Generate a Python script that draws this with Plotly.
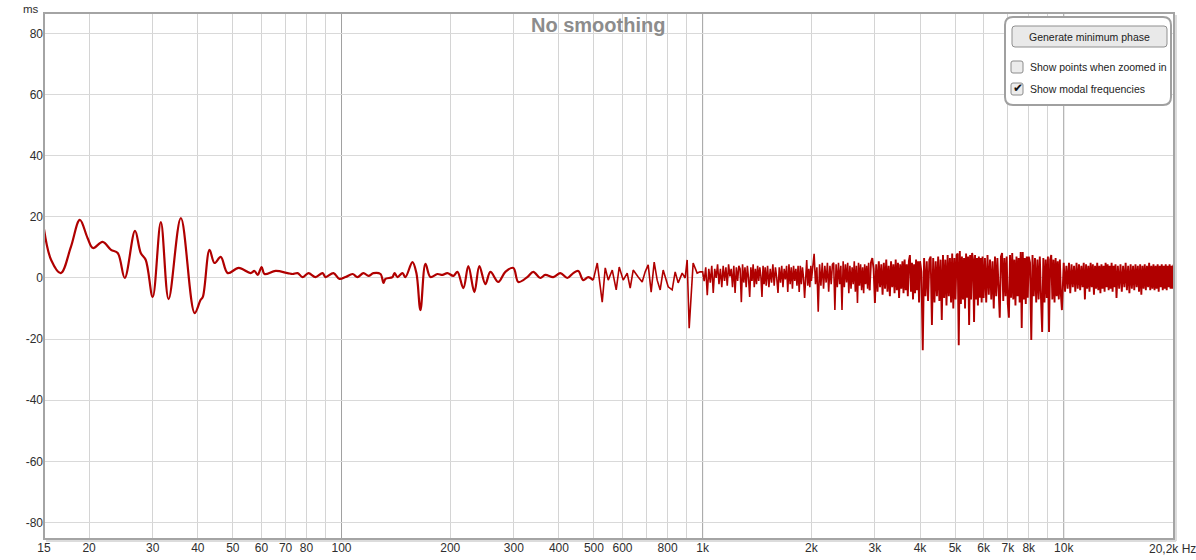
import math
import plotly.graph_objects as go

# ---------------- data ----------------
# low-frequency part (smooth curve)
freq_low_hz = [15, 15.7, 16.7, 17.8, 18.85, 19.8, 20.5, 21.8, 23.0, 24.0,
               25.1, 26.8, 27.8, 28.7, 30.0, 31.6, 33.2, 35.9, 39.2, 40.7,
               41.3, 43.1, 44.5, 46.3, 48.4, 51.9, 56.0, 57.4, 58.6, 60.1,
               61.2, 65.7, 70.9, 73.2, 75.6, 78.0, 81.0, 84.7, 88.6, 90.3,
               95.0, 98.7, 102.6, 107.3, 110.7, 115.0, 118.8, 122.6, 128.2, 130.7,
               132.3, 138.4, 140.2, 142.9, 147.5, 150.3, 157.2, 161.2, 165.4, 170.8,
               176.3, 184.3, 190.3, 196.4, 204.1, 209.4, 217.5, 224.5, 233.3, 240.8,
               250.2, 258.4, 271.8, 284.2, 299.1, 308.8, 327.0, 339.7, 355.2, 366.7,
               385.8, 403.5, 421.9, 438.3, 452.5, 467.1, 482.3, 497.9]
delay_low_ms = [16.0, 5.9, 1.6, 10.1, 19.0, 13.1, 9.8, 11.8, 9.2, 8.2,
                0.0, 15.4, 8.2, 5.9, -6.2, 18.3, -6.9, 19.6, -11.5, -7.2,
                -6.2, 9.2, 4.9, 6.9, 1.6, 3.3, 1.6, 2.3, 1.0, 3.6,
                1.3, 2.3, 1.6, 1.3, 1.6, 0.3, 1.6, 0.3, 1.6, 0.3,
                1.6, -0.3, 0.3, 1.3, 0.3, 1.6, 0.7, 1.6, 1.3, -1.6,
                -0.3, 0.3, 1.6, 0.3, 1.6, 0.3, 5.2, 1.6, -10.5, 4.6,
                0.3, 1.3, 1.0, 1.6, 0.7, 2.0, -3.3, 3.9, -4.6, 3.9,
                -2.0, 2.0, -1.3, 2.0, 3.3, -1.3, 0.3, 2.0, 0.0, 1.0,
                0.3, 1.6, 0.0, 1.6, 2.3, -0.7, 0.3, -0.7]

# 500 Hz - 1 kHz
freq_mid_hz = [510.8, 527.2, 537.4, 547.8, 562.0, 576.4, 587.5, 602.7, 618.2,
               630.1, 642.3, 663.1, 680.2, 693.3, 706.7, 720.3, 734.3, 748.4, 762.9,
               777.6, 802.9, 823.5, 839.4, 855.6, 877.7, 894.6, 906.0, 917.8, 941.3,
               965.6, 984.2]
delay_mid_ms = [4.9, -7.9, 3.3, -0.7, 2.6, -3.9, 3.6, -0.7, 1.6,
                -3.3, 2.6, 0.3, -1.3, 2.0, 4.3, -4.6, 5.2, -0.7, -3.9,
                2.6, -2.9, -3.9, 2.0, -1.6, 1.6, 0.0, 5.9, -16.4, 4.9,
                1.6, 2.0]

# 1 kHz - 2.9 kHz
freq_1k_hz = [1000, 1010, 1020, 1030, 1040, 1050, 1060, 1070, 1080, 1090,
              1100, 1110, 1120, 1130, 1140, 1150, 1160, 1170, 1180, 1190,
              1200, 1210, 1220, 1230, 1240, 1250, 1260, 1270, 1280, 1290,
              1300, 1310, 1320, 1330, 1340, 1350, 1360, 1370, 1380, 1390,
              1400, 1410, 1420, 1430, 1440, 1450, 1460, 1470, 1480, 1490,
              1500, 1513, 1526, 1539, 1552, 1565, 1578, 1591, 1604, 1617,
              1630, 1643, 1656, 1669, 1682, 1695, 1708, 1721, 1734, 1747,
              1760, 1773, 1786, 1799, 1812, 1825, 1838, 1851, 1864, 1877,
              1890, 1903, 1916, 1929, 1942, 1955, 1968, 1981, 1994,
              2000, 2018, 2036, 2054, 2072, 2090, 2108, 2126, 2144, 2162,
              2180, 2198, 2216, 2234, 2252, 2270, 2288, 2306, 2324, 2342,
              2360, 2378, 2396, 2414, 2432, 2450, 2468, 2486, 2504, 2522,
              2540, 2558, 2576, 2594, 2612, 2630, 2648, 2666, 2684, 2702,
              2720, 2738, 2756, 2774, 2792, 2810, 2828, 2846, 2864, 2882]
delay_1k_ms = [2.0, -1.0, 3.5, -5.6, 3.0, -1.5, 4.0, -4.9, 3.0, 0.0,
               4.5, -2.0, 3.0, -3.0, 4.0, -1.0, 3.5, -2.5, 4.5, 0.5,
               3.0, -3.0, 4.0, -4.9, 3.5, -1.0, 4.0, 3.0, -7.9, 4.5,
               -1.5, 3.5, -3.0, 4.0, 0.0, -6.2, 3.5, -1.0, 4.5, -3.0,
               3.0, -2.0, 4.0, -1.0, 3.5, 0.5, -6.2, 4.0, -2.0, 3.5,
               -2.5, 4.0, -3.0, 3.0, -1.5, 4.5, -2.5, 3.5, 0.0, -4.9,
               3.5, -1.5, 4.0, -3.0, 3.0, -0.5, 4.0, -4.6, 4.5, -2.0,
               3.5, -3.5, 4.0, -1.0, 3.0, -2.5, 4.0, -4.6, 4.0, -2.0,
               3.5, 0.0, -6.5, 3.0, 5.9, -2.5, 3.0, -3.0, 4.0,
               -1.0, 4.5, 7.9, -2.0, 3.5, -11.0, 4.5, -2.5, 5.0, -3.5,
               4.0, -1.5, 5.0, -4.5, 4.0, -2.0, 4.5, 5.0, -10.5, 4.5,
               -3.0, 5.0, -2.0, 4.0, -10.5, 5.5, -3.0, 4.5, -1.5, 5.0,
               -5.0, 4.0, -3.5, 3.5, -2.0, 5.5, -4.5, 4.0, -8.2, 5.0,
               -2.5, 4.5, -4.0, 3.5, -5.0, 4.5, -2.0, 4.0, -3.5, 5.0]

# 2.9 kHz - 10 kHz
freq_3k_hz = [2900, 2925, 2950, 2975, 3000, 3025, 3050, 3075, 3100, 3125,
              3150, 3175, 3200, 3225, 3250, 3275, 3300, 3325, 3350, 3375,
              3400, 3425, 3450, 3475, 3500, 3525, 3550, 3575, 3600, 3625,
              3650, 3675, 3700, 3725, 3750, 3775, 3800, 3825, 3850, 3875,
              3900, 3925, 3950, 3975,
              4000, 4035, 4070, 4105, 4140, 4175, 4210, 4245, 4280, 4315,
              4350, 4385, 4420, 4455, 4490, 4525, 4560, 4595, 4630, 4665,
              4700, 4735, 4770, 4805, 4840, 4875, 4910, 4945, 4980, 5015,
              5050, 5085, 5120, 5155, 5190, 5225, 5260, 5295, 5330, 5365,
              5400, 5435, 5470, 5505, 5540, 5575, 5610, 5645, 5680, 5715,
              5750, 5785, 5820, 5855, 5890, 5925, 5960,
              6000, 6050, 6100, 6150, 6200, 6250, 6300, 6350, 6400, 6450,
              6500, 6550, 6600, 6650, 6700, 6750, 6800, 6850, 6900, 6950,
              7000, 7050, 7100, 7150, 7200, 7250, 7300, 7350, 7400, 7450,
              7500, 7550, 7600, 7650, 7700, 7750, 7800, 7850, 7900, 7950,
              8000, 8065, 8130, 8195, 8260, 8325, 8390, 8455, 8520, 8585,
              8650, 8715, 8780, 8845, 8910, 8975, 9040, 9105, 9170, 9235,
              9300, 9365, 9430, 9495, 9560, 9625, 9690, 9755, 9820, 9885]
delay_3k_ms = [-4.0, 5.0, 6.5, 3.0, -8.2, 4.5, -4.5, 5.5, -3.0, 4.5,
               -5.5, 5.0, -3.5, 6.0, -4.5, 4.0, -6.0, 5.5, -3.0, 4.5,
               -5.0, 6.0, -4.0, 5.0, -6.5, 4.5, -3.5, 5.5, -5.0, 6.0,
               -4.0, 4.5, -6.0, 5.5, 7.5, -4.5, 5.0, -7.0, 4.5, -5.0,
               6.0, -4.0, 5.5, -8.0,
               5.5, 2.0, -23.6, 6.5, -6.0, 5.5, -7.5, 6.0, 7.0, -15.4,
               6.5, -8.0, 5.5, -6.0, 7.0, -7.5, 6.0, -13.7, 7.5, -6.5,
               6.0, -9.0, 7.5, -6.0, 6.5, -8.0, 8.0, -10.0, 6.5, -7.0,
               7.5, 8.0, -22.0, 8.8, -8.5, 7.0, -7.0, 6.5, -10.0, 8.0,
               -6.5, 7.0, -15.4, 7.5, -7.0, 8.2, 6.0, -14.4, 7.5, -7.0,
               6.5, -9.0, 7.0, -6.5, 6.5, -8.0, 7.0,
               -6.5, 6.5, -8.0, 7.5, -5.5, 6.0, -7.0, 5.5, -10.0, 7.0,
               -6.0, 6.5, -7.5, -13.0, 7.0, 8.2, -7.5, 6.5, -6.0, 7.0,
               -8.5, -13.0, 7.5, -6.5, 8.2, -7.0, 6.0, -9.0, 7.0, -6.0,
               6.5, -8.0, 8.5, -16.4, 8.5, -7.0, 6.5, -8.5, 7.0, -6.5,
               7.0, 5.0, -20.3, 7.5, -6.0, 6.5, -8.0, 6.0, -7.0, 7.0,
               -6.5, -17.7, 6.5, -8.0, 6.0, -6.5, 7.0, -17.7, 6.0, 7.5,
               -7.0, 6.0, -8.0, 6.5, -6.0, 5.5, -7.0, 6.0, -5.5, -10.5]

# 10 kHz - 20.2 kHz
freq_10k_hz = [10000, 10085, 10170, 10255, 10340, 10425, 10510, 10595, 10680, 10765,
               10850, 10935, 11020, 11105, 11190, 11275, 11360, 11445, 11530, 11615,
               11700, 11785, 11870, 11955, 12040, 12125, 12210, 12295, 12380, 12465,
               12550, 12635, 12720, 12805, 12890, 12975, 13060, 13145, 13230, 13315,
               13400, 13485, 13570, 13655, 13740, 13825, 13910,
               14000, 14120, 14240, 14360, 14480, 14600, 14720, 14840, 14960, 15080,
               15200, 15320, 15440, 15560, 15680, 15800, 15920, 16040, 16160, 16280,
               16400, 16520, 16640, 16760, 16880, 17000, 17120, 17240, 17360, 17480,
               17600, 17720, 17840, 17960, 18080, 18200, 18320, 18440, 18560, 18680,
               18800, 18920, 19040, 19160, 19280, 19400, 19520, 19640, 19760, 19880,
               20000, 20120, 20200]
delay_10k_ms = [5.0, -4.5, 4.0, -3.5, 5.0, -5.0, 4.5, -3.0, 4.0, -4.5,
                5.0, -3.5, 4.5, -4.0, 4.0, -3.0, 5.0, -7.0, 4.5, -3.5,
                4.0, -4.5, 5.0, -3.0, 4.5, -5.5, 4.0, -3.5, 5.0, -4.0,
                4.0, -5.0, 4.5, -3.5, 4.0, -4.5, 5.0, -3.0, 4.5, -4.0,
                4.0, -3.5, 5.0, -4.5, 4.0, -3.0, 4.5,
                -6.5, 4.0, -3.5, 4.5, -4.5, 4.0, -3.0, 5.0, -4.0, 4.0,
                -5.0, 4.5, -3.5, 4.0, -4.0, 4.5, -3.0, 4.0, -4.5, 4.5,
                -5.5, 4.0, -3.5, 4.5, -4.0, 4.0, -3.0, 5.0, -4.0, 4.0,
                -3.5, 4.5, -4.0, 4.0, -3.5, 4.5, -4.5, 4.0, -3.0, 4.5,
                -4.0, 4.0, -3.5, 4.5, -4.0, 4.0, -3.0, 4.5, -3.5, 4.0,
                -3.5, 4.0, 4.5]

for _fx, _fy in [(freq_low_hz, delay_low_ms), (freq_mid_hz, delay_mid_ms),
                 (freq_1k_hz, delay_1k_ms), (freq_3k_hz, delay_3k_ms),
                 (freq_10k_hz, delay_10k_ms)]:
    assert len(_fx) == len(_fy), (len(_fx), len(_fy))

# axis ticks
x_tick_vals = [15, 20, 30, 40, 50, 60, 70, 80, 100, 200, 300, 400, 500, 600, 800,
               1000, 2000, 3000, 4000, 5000, 6000, 7000, 8000, 10000]
x_tick_text = ["15", "20", "30", "40", "50", "60", "70", "80", "100", "200", "300",
               "400", "500", "600", "800", "1k", "2k", "3k", "4k", "5k", "6k", "7k",
               "8k", "10k"]
x_grid_vals = [20, 30, 40, 50, 60, 70, 80, 90, 200, 300, 400, 500, 600, 700, 800, 900,
               2000, 3000, 4000, 5000, 6000, 7000, 8000, 9000]
x_decade_vals = [100, 1000, 10000]
y_tick_vals = [-80, -60, -40, -20, 0, 20, 40, 60, 80]
y_tick_text = ["-80", "-60", "-40", "-20", "0", "20", "40", "60", "80"]
x_min_hz, x_max_hz = 15, 20200
y_min_ms, y_max_ms = -85.4, 86.7

# ---------------- layout helpers ----------------
W, H = 1196, 560
L, R, T, B = 44, 1174, 13, 539
LX0, LX1 = math.log10(x_min_hz), math.log10(x_max_hz)


def fx(f):
    return (math.log10(f) - LX0) / (LX1 - LX0)


def pxx(x):
    return (x - L) / (R - L)


def pxy(y):
    return (B - y) / (B - T)


def rrect(x0, y0, x1, y1, r):
    rx = r / (R - L)
    ry = r / (B - T)
    X0, X1 = pxx(x0), pxx(x1)
    Y0, Y1 = pxy(y0), pxy(y1)
    return (f"M {X0 + rx},{Y0} L {X1 - rx},{Y0} Q {X1},{Y0} {X1},{Y0 - ry} "
            f"L {X1},{Y1 + ry} Q {X1},{Y1} {X1 - rx},{Y1} L {X0 + rx},{Y1} "
            f"Q {X0},{Y1} {X0},{Y1 + ry} L {X0},{Y0 - ry} Q {X0},{Y0} {X0 + rx},{Y0} Z")


LINE = "#b00000"
FONT = "Liberation Sans, Arial, sans-serif"
TXT = "#2e2e2e"

fig = go.Figure()
fig.add_trace(go.Scatter(x=freq_low_hz, y=delay_low_ms, mode="lines",
                         line=dict(color=LINE, width=2.2, shape="spline", smoothing=1.0),
                         hoverinfo="skip", showlegend=False))
mid_x = [freq_low_hz[-1]] + freq_mid_hz + freq_1k_hz + [freq_3k_hz[0]]
mid_y = [delay_low_ms[-1]] + delay_mid_ms + delay_1k_ms + [delay_3k_ms[0]]
fig.add_trace(go.Scatter(x=mid_x, y=mid_y, mode="lines",
                         line=dict(color=LINE, width=1.6),
                         hoverinfo="skip", showlegend=False))
hf_x = freq_3k_hz + freq_10k_hz
hf_y = delay_3k_ms + delay_10k_ms
fig.add_trace(go.Scatter(x=hf_x, y=hf_y, mode="lines",
                         line=dict(color=LINE, width=1.9),
                         hoverinfo="skip", showlegend=False))

shapes = []
for f in x_decade_vals:
    shapes.append(dict(type="line", xref="paper", yref="paper", x0=fx(f), x1=fx(f),
                       y0=0, y1=1, line=dict(color="#a0a0a0", width=1), layer="below"))
shapes.append(dict(type="line", xref="paper", yref="paper", x0=pxx(L + 2), x1=pxx(R + 2),
                   y0=pxy(B + 2), y1=pxy(B + 2), line=dict(color="#dcdcdc", width=2)))
shapes.append(dict(type="line", xref="paper", yref="paper", x0=pxx(R + 2), x1=pxx(R + 2),
                   y0=pxy(T + 2), y1=pxy(B + 2), line=dict(color="#dcdcdc", width=2)))
shapes.append(dict(type="rect", xref="paper", yref="paper", x0=0, x1=1, y0=0, y1=1,
                   line=dict(color="#a4a4a4", width=2)))
shapes.append(dict(type="path", xref="paper", yref="paper", path=rrect(1005, 17, 1171, 105, 8),
                   fillcolor="white", line=dict(color="#a0a0a0", width=2), layer="above"))
shapes.append(dict(type="path", xref="paper", yref="paper", path=rrect(1012, 26, 1167, 47, 3),
                   fillcolor="#e9e9e9", line=dict(color="#8f8f8f", width=1), layer="above"))
shapes.append(dict(type="path", xref="paper", yref="paper", path=rrect(1011, 61, 1023, 73, 2),
                   fillcolor="#ececec", line=dict(color="#8c8c8c", width=1), layer="above"))
shapes.append(dict(type="path", xref="paper", yref="paper", path=rrect(1011, 83, 1023, 95, 2),
                   fillcolor="#ececec", line=dict(color="#8c8c8c", width=1), layer="above"))

annotations = [
    dict(text="ms", xref="paper", yref="paper", x=pxx(31), y=pxy(1), showarrow=False,
         xanchor="center", yanchor="top", font=dict(family=FONT, size=11.5, color=TXT)),
    dict(text="20,2k Hz", xref="paper", yref="paper", x=1, y=pxy(549), xshift=-27,
         showarrow=False, xanchor="left", yanchor="middle",
         font=dict(family=FONT, size=12, color=TXT)),
    dict(text="<b>No smoothing</b>", xref="paper", yref="paper", x=pxx(598), y=pxy(25),
         showarrow=False, xanchor="center", yanchor="middle",
         font=dict(family=FONT, size=20, color="#8c8c8c")),
    dict(text="Generate minimum phase", xref="paper", yref="paper", x=pxx(1089.5), y=pxy(37),
         showarrow=False, xanchor="center", yanchor="middle",
         font=dict(family=FONT, size=10.5, color="#222222")),
    dict(text="Show points when zoomed in", xref="paper", yref="paper", x=pxx(1028), y=pxy(67),
         showarrow=False, xanchor="left", yanchor="middle",
         font=dict(family=FONT, size=10.5, color="#222222")),
    dict(text="Show modal frequencies", xref="paper", yref="paper", x=pxx(1028), y=pxy(89),
         showarrow=False, xanchor="left", yanchor="middle",
         font=dict(family=FONT, size=10.5, color="#222222")),
    dict(text="\u2714", xref="paper", yref="paper", x=pxx(1017.5), y=pxy(88.5),
         showarrow=False, xanchor="center", yanchor="middle",
         font=dict(family="DejaVu Sans", size=12, color="#111111")),
]

fig.update_layout(
    width=W, height=H,
    margin=dict(l=L, r=W - R, t=T, b=H - B, pad=0),
    paper_bgcolor="white", plot_bgcolor="white",
    showlegend=False,
    shapes=shapes, annotations=annotations,
    font=dict(family=FONT, size=12, color=TXT),
    xaxis=dict(type="log", range=[LX0, LX1], tickmode="array", tickvals=x_tick_vals,
               ticktext=x_tick_text, showgrid=False, zeroline=False, showline=False,
               ticks="", automargin=False,
               minor=dict(tickmode="array", tickvals=x_grid_vals, showgrid=True,
                          gridcolor="#d4d4d4", gridwidth=1, ticks="")),
    yaxis=dict(range=[y_min_ms, y_max_ms], tickmode="array", tickvals=y_tick_vals,
               ticktext=y_tick_text, showgrid=True, gridcolor="#d9d9d9", gridwidth=1,
               zeroline=False, showline=False, ticks="", automargin=False),
)

fig.write_html("out.html", config={"displayModeBar": False},
               post_script="document.body.style.margin='0px';document.body.style.overflow='hidden';")
